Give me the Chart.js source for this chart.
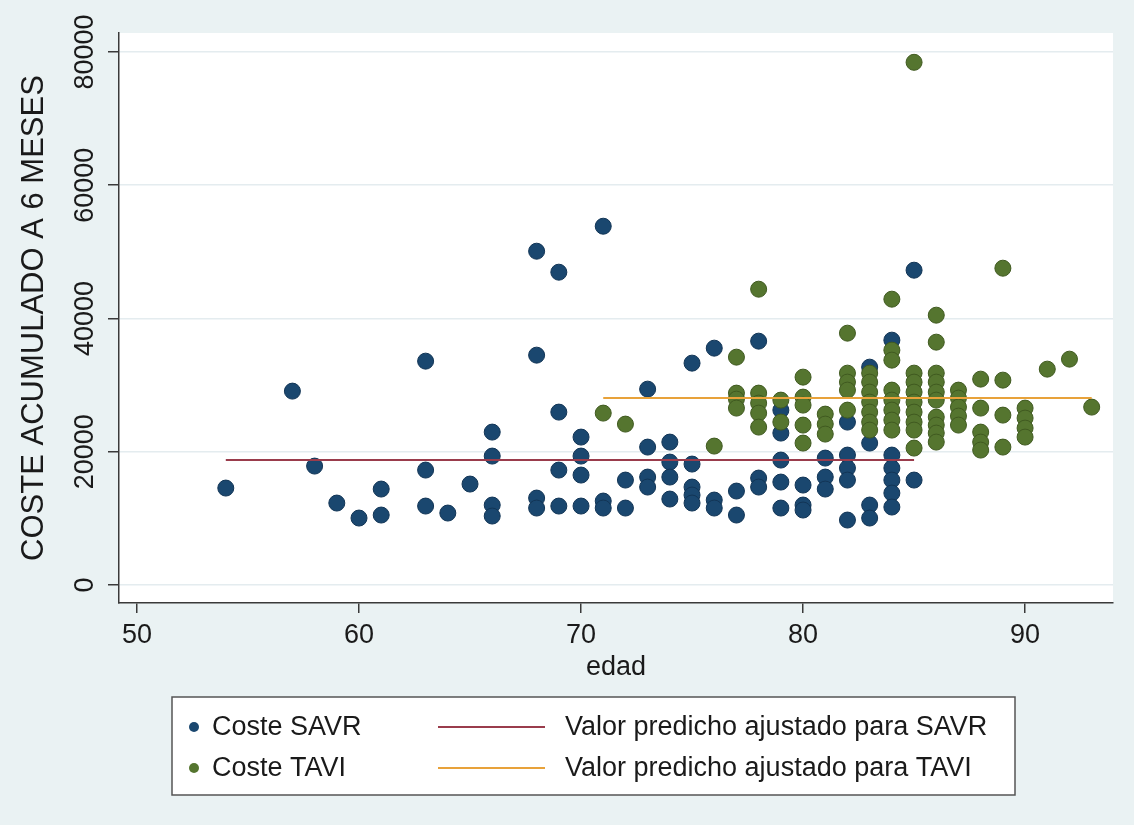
<!DOCTYPE html>
<html>
<head>
<meta charset="utf-8">
<title>Coste acumulado a 6 meses según edad</title>
<script src="https://cdn.jsdelivr.net/npm/chart.js@4.4.1/dist/chart.umd.min.js"></script>
<style>
  html, body { margin: 0; padding: 0; background: #eaf2f3; }
  #wrap { width: 1134px; height: 825px; }
</style>
</head>
<body>
<div id="wrap"><canvas id="chart" width="1134" height="825"></canvas></div>
<script>
// valores: edad y coste acumulado a 6 meses
const savrAge = [
  54, 57, 58, 59, 60, 61, 61, 63, 63, 63, 64, 65,
  66, 66, 66, 66, 68, 68, 68, 68, 69, 69, 69, 69,
  70, 70, 70, 70, 71, 71, 71, 72, 72, 73, 73, 73, 73,
  74, 74, 74, 74, 75, 75, 75, 75, 75, 76, 76, 76, 77, 77,
  78, 78, 78, 79, 79, 79, 79, 79, 80, 80, 80, 81, 81, 81,
  82, 82, 82, 82, 82, 83, 83, 83, 83,
  84, 84, 84, 84, 84, 84, 85, 85
];
const savrCost = [
  14550, 29100, 17850, 12300, 10050, 14400, 10500, 33600, 17250, 11850, 10800, 15150,
  22950, 19350, 12000, 10350, 50100, 34500, 13050, 11550, 46950, 25950, 17250, 11850,
  22200, 19350, 16500, 11850, 53850, 12600, 11550, 15750, 11550, 29400, 20700, 16200, 14700,
  21450, 18450, 16200, 12900, 33300, 18150, 14700, 13500, 12300, 35550, 12750, 11550, 14100, 10500,
  36600, 16050, 14700, 26250, 22800, 18750, 15450, 11550, 15000, 12000, 11250, 19050, 16200, 14400,
  24450, 19500, 17550, 15750, 9750, 32700, 21300, 12000, 10050,
  36750, 19500, 17550, 15750, 13800, 11700, 47250, 15750
];
const taviAge = [
  71, 72, 76, 77, 77, 77, 77, 78, 78, 78, 78, 78, 79, 79,
  80, 80, 80, 80, 80, 81, 81, 81, 82, 82, 82, 82, 82,
  83, 83, 83, 83, 83, 83, 83,
  84, 84, 84, 84, 84, 84, 84, 84,
  85, 85, 85, 85, 85, 85, 85, 85, 85,
  86, 86, 86, 86, 86, 86, 86, 86, 86, 86,
  87, 87, 87, 87, 87, 88, 88, 88, 88, 88,
  89, 89, 89, 89, 90, 90, 90, 90, 91, 92, 93
];
const taviCost = [
  25800, 24150, 20850, 34200, 28800, 27900, 26550, 44400, 28800, 27300, 25800, 23700, 27750, 24450,
  31200, 28200, 27000, 24000, 21300, 25650, 24150, 22650, 37800, 31800, 30450, 29250, 26250,
  31800, 30450, 28950, 27450, 25950, 24450, 23250,
  42900, 35250, 33750, 29250, 27750, 26250, 24750, 23250,
  78450, 31800, 30450, 28950, 27450, 25950, 24450, 23250, 20550,
  40500, 36450, 31800, 30450, 28950, 27750, 25200, 24000, 22800, 21450,
  29250, 28050, 26700, 25350, 24000, 30900, 26550, 22950, 21450, 20250,
  47550, 30750, 25500, 20700, 26550, 25050, 23550, 22200, 32400, 33900, 26700
];
// valor predicho ajustado (recta horizontal de cada grupo)
const fitSavrAge = [54, 85];
const fitSavrCost = [18750, 18750];
const fitTaviAge = [71, 93];
const fitTaviCost = [28050, 28050];

const xTicks = [50, 60, 70, 80, 90];
const yTicks = [0, 20000, 40000, 60000, 80000];

const colors = {
  savr: '#1a476f',
  savrEdge: '#123556',
  tavi: '#55752f',
  taviEdge: '#405a20',
  fitSavr: '#9a3c4c',
  fitTavi: '#e8a23a',
  text: '#1a1a1a',
  axis: '#3a3a3a',
  grid: '#e4ecef',
  outer: '#eaf2f3'
};
const FONT = '"Liberation Sans", Arial, sans-serif';

const pairs = (xs, ys) => xs.map((x, i) => ({x: x, y: ys[i]}));

// fondo exterior gris azulado y region del grafico en blanco
const bgPlugin = {
  id: 'stataBackground',
  beforeDraw(chart) {
    const {ctx, chartArea: a} = chart;
    ctx.save();
    ctx.fillStyle = colors.outer;
    ctx.fillRect(0, 0, chart.width, chart.height);
    ctx.fillStyle = '#ffffff';
    ctx.fillRect(a.left, a.top, a.right - a.left, a.bottom - a.top);
    ctx.restore();
  }
};

// leyenda en caja, dos columnas como en Stata
const legendPlugin = {
  id: 'boxLegend',
  afterDraw(chart) {
    const ctx = chart.ctx;
    const ds = chart.data.datasets;
    const box = {x: 172, y: 697, w: 843, h: 98};
    const rows = [727, 768];
    ctx.save();
    ctx.fillStyle = '#ffffff';
    ctx.fillRect(box.x, box.y, box.w, box.h);
    ctx.strokeStyle = '#555';
    ctx.lineWidth = 1.5;
    ctx.strokeRect(box.x, box.y, box.w, box.h);

    ctx.font = '27px ' + FONT;
    ctx.textBaseline = 'middle';
    ctx.textAlign = 'left';

    const markers = [ds[3], ds[2]];
    const lines = [ds[0], ds[1]];
    markers.forEach((d, i) => {
      ctx.beginPath();
      ctx.arc(194, rows[i], 5, 0, Math.PI * 2);
      ctx.fillStyle = d.backgroundColor;
      ctx.fill();
      ctx.fillStyle = colors.text;
      ctx.fillText(d.label, 212, rows[i] + 1);
    });
    lines.forEach((d, i) => {
      ctx.beginPath();
      ctx.moveTo(438, rows[i]);
      ctx.lineTo(545, rows[i]);
      ctx.strokeStyle = d.borderColor;
      ctx.lineWidth = 2;
      ctx.stroke();
      ctx.fillStyle = colors.text;
      ctx.fillText(d.label, 565, rows[i] + 1);
    });
    ctx.restore();
  }
};

const ctx = document.getElementById('chart').getContext('2d');
new Chart(ctx, {
  type: 'scatter',
  data: {
    datasets: [
      {
        label: 'Valor predicho ajustado para SAVR',
        data: pairs(fitSavrAge, fitSavrCost),
        showLine: true,
        borderColor: colors.fitSavr,
        borderWidth: 2,
        pointRadius: 0,
        order: 0
      },
      {
        label: 'Valor predicho ajustado para TAVI',
        data: pairs(fitTaviAge, fitTaviCost),
        showLine: true,
        borderColor: colors.fitTavi,
        borderWidth: 2,
        pointRadius: 0,
        order: 0
      },
      {
        label: 'Coste TAVI',
        data: pairs(taviAge, taviCost),
        backgroundColor: colors.tavi,
        borderColor: colors.taviEdge,
        borderWidth: 1,
        pointRadius: 8,
        order: 1
      },
      {
        label: 'Coste SAVR',
        data: pairs(savrAge, savrCost),
        backgroundColor: colors.savr,
        borderColor: colors.savrEdge,
        borderWidth: 1,
        pointRadius: 8,
        order: 2
      }
    ]
  },
  options: {
    responsive: false,
    animation: false,
    layout: {padding: {left: 0, top: 33, right: 21, bottom: 137}},
    plugins: {
      legend: {display: false},
      tooltip: {enabled: false}
    },
    scales: {
      x: {
        type: 'linear',
        min: 49.19,
        max: 93.96,
        afterBuildTicks: s => { s.ticks = xTicks.map(v => ({value: v})); },
        afterFit: s => { s.height = 85; },
        ticks: {
          color: colors.text,
          font: {family: FONT, size: 27},
          padding: 6,
          callback: v => String(v)
        },
        grid: {
          drawOnChartArea: false,
          drawTicks: true,
          tickLength: 10,
          tickColor: colors.axis,
          lineWidth: 1.5
        },
        border: {display: true, color: colors.axis, width: 1.5},
        title: {
          display: true,
          text: 'edad',
          color: colors.text,
          font: {family: FONT, size: 27},
          padding: {top: 0, bottom: 4}
        }
      },
      y: {
        type: 'linear',
        min: -2700,
        max: 82850,
        afterBuildTicks: s => { s.ticks = yTicks.map(v => ({value: v})); },
        afterFit: s => { s.width = 119; },
        ticks: {
          color: colors.text,
          font: {family: FONT, size: 27},
          minRotation: 90,
          maxRotation: 90,
          crossAlign: 'center',
          padding: -15,
          callback: v => String(v)
        },
        grid: {
          color: colors.grid,
          lineWidth: 1.5,
          tickLength: 11,
          tickColor: colors.axis
        },
        border: {display: true, color: colors.axis, width: 1.5},
        title: {
          display: true,
          text: 'COSTE ACUMULADO A 6 MESES',
          color: colors.text,
          font: {family: FONT, size: 31},
          padding: {top: 16, bottom: 0}
        }
      }
    }
  },
  plugins: [bgPlugin, legendPlugin]
});
</script>
</body>
</html>
